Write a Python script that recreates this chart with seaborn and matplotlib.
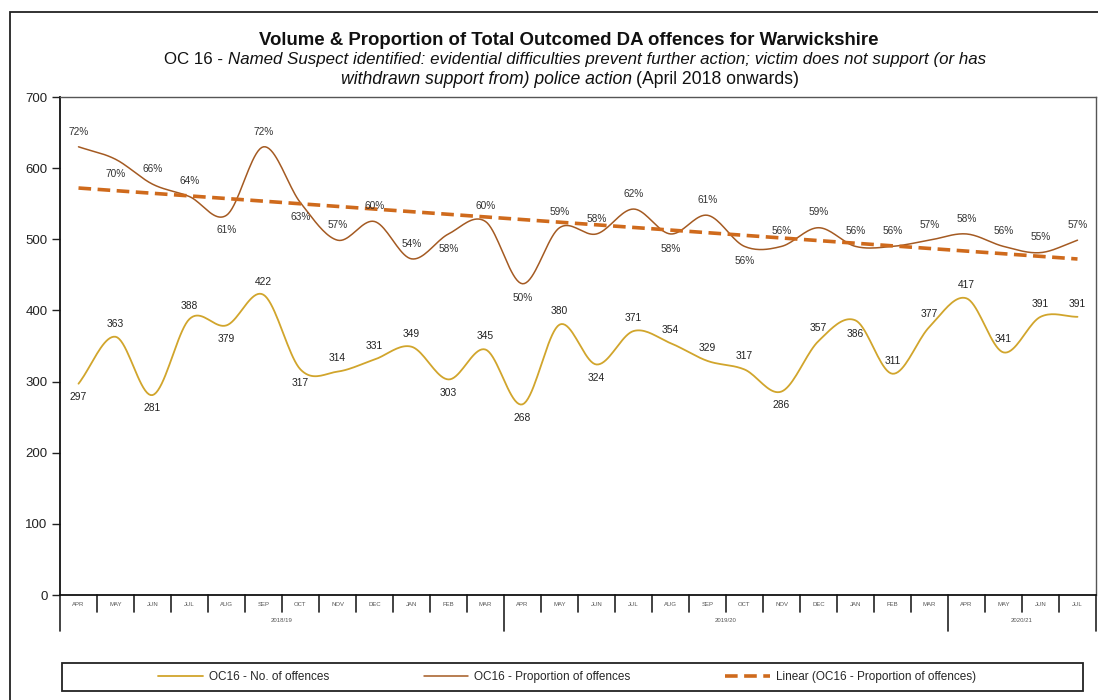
import numpy as np
import pandas as pd
import matplotlib
matplotlib.use("Agg")
import matplotlib.pyplot as plt
import matplotlib.transforms as mtransforms
from matplotlib import font_manager
from matplotlib.patches import Rectangle
from matplotlib.lines import Line2D
import seaborn as sns

# ---------------- data ----------------
months = ["APR", "MAY", "JUN", "JUL", "AUG", "SEP", "OCT", "NOV", "DEC", "JAN", "FEB", "MAR",
          "APR", "MAY", "JUN", "JUL", "AUG", "SEP", "OCT", "NOV", "DEC", "JAN", "FEB", "MAR",
          "APR", "MAY", "JUN", "JUL"]
years = ["2018/19", "2019/20", "2020/21"]
months_per_year = [12, 12, 4]
offences = [297, 363, 281, 388, 379, 422, 317, 314, 331, 349, 303, 345,
            268, 380, 324, 371, 354, 329, 317, 286, 357, 386, 311, 377,
            417, 341, 391, 391]
proportion_pct = [72, 70, 66, 64, 61, 72, 63, 57, 60, 54, 58, 60,
                  50, 59, 58, 62, 58, 61, 56, 56, 59, 56, 56, 57,
                  58, 56, 55, 57]
y_ticks = [0, 100, 200, 300, 400, 500, 600, 700]
legend_labels = ["OC16 - No. of offences", "OC16 - Proportion of offences",
                 "Linear (OC16 - Proportion of offences)"]

# ---------------- style ----------------
sns.set_theme(style="white")
avail = {f.name for f in font_manager.fontManager.ttflist}
base_font = "Liberation Sans" if "Liberation Sans" in avail else "DejaVu Sans"
plt.rcParams["font.family"] = [base_font, "DejaVu Sans"]

C_COUNT = "#D1A52C"
C_PROP = "#A45A22"
C_TREND = "#CF6A1C"
TXT = "#222222"

W, H = 1098, 700
fig = plt.figure(figsize=(W / 100, H / 100), dpi=100)
fig.patch.set_facecolor("white")


def fx(px):
    return px / W


def fy(py):
    return 1 - py / H


L, R, T, B = 60, 1096, 97, 595
ax = fig.add_axes([fx(L), fy(B), (R - L) / W, (B - T) / H])
ax2 = ax.twinx()


def smooth(xv, yv, n=20):
    """Catmull-Rom style smoothing of the line rendering (as Excel 'smoothed line')."""
    xv = np.asarray(xv, float)
    yv = np.asarray(yv, float)
    px = np.concatenate([[2 * xv[0] - xv[1]], xv, [2 * xv[-1] - xv[-2]]])
    py = np.concatenate([[2 * yv[0] - yv[1]], yv, [2 * yv[-1] - yv[-2]]])
    ox, oy = [], []
    t = np.linspace(0, 1, n, endpoint=False)
    for i in range(1, len(px) - 2):
        p0, p1, p2, p3 = py[i - 1], py[i], py[i + 1], py[i + 2]
        q0, q1, q2, q3 = px[i - 1], px[i], px[i + 1], px[i + 2]
        t2, t3 = t * t, t * t * t
        oy.append(0.5 * (2 * p1 + (-p0 + p2) * t + (2 * p0 - 5 * p1 + 4 * p2 - p3) * t2 + (-p0 + 3 * p1 - 3 * p2 + p3) * t3))
        ox.append(0.5 * (2 * q1 + (-q0 + q2) * t + (2 * q0 - 5 * q1 + 4 * q2 - q3) * t2 + (-q0 + 3 * q1 - 3 * q2 + q3) * t3))
    ox.append([xv[-1]])
    oy.append([yv[-1]])
    return np.concatenate(ox), np.concatenate(oy)


xi = np.arange(len(months))
prop = np.array(proportion_pct) / 100.0

sx, sy = smooth(xi, offences)
df_c = pd.DataFrame({"x": sx, "y": sy})
sns.lineplot(data=df_c, x="x", y="y", ax=ax, color=C_COUNT, lw=1.3, sort=False,
             label=legend_labels[0])

px_, py_ = smooth(xi, prop)
df_p = pd.DataFrame({"x": px_, "y": py_})
sns.lineplot(data=df_p, x="x", y="y", ax=ax2, color=C_PROP, lw=1.1, sort=False,
             label=legend_labels[1])

coef = np.polyfit(xi, prop, 1)
df_t = pd.DataFrame({"x": xi, "y": np.polyval(coef, xi)})
sns.lineplot(data=df_t, x="x", y="y", ax=ax2, color=C_TREND, lw=2.6, sort=False,
             label=legend_labels[2], dashes=False, linestyle=(0, (3.5, 1.8)))

h1, l1 = ax.get_legend_handles_labels()
h2, l2 = ax2.get_legend_handles_labels()
for a in (ax, ax2):
    if a.get_legend() is not None:
        a.get_legend().remove()

ax.set_xlim(-0.5, len(months) - 0.5)
ax.set_ylim(0, 700)
ax2.set_ylim(0, 0.8)
ax2.set_axis_off()

# data labels
count_pos = "babababaaabababaaaababaaaaaa"
prop_pos = "abaababaaababaaababaaaaaaaaa"
for i, v in enumerate(offences):
    off = 9.5 if count_pos[i] == "a" else -9.5
    ax.annotate(str(v), (i, v), xytext=(0, off), textcoords="offset points",
                ha="center", va="center", fontsize=7.4, color=TXT)
for i, v in enumerate(prop):
    off = 11 if prop_pos[i] == "a" else -10.5
    ax2.annotate(f"{proportion_pct[i]}%", (i, v), xytext=(0, off), textcoords="offset points",
                 ha="center", va="center", fontsize=7.3, color="#333333")

# axes styling
ax.set_yticks(y_ticks)
ax.set_yticklabels([str(t) for t in y_ticks], fontsize=9.5, color=TXT)
ax.set_xticks([])
ax.set_xlabel("")
ax.set_ylabel("")
ax.tick_params(axis="y", direction="out", length=6, width=1, color="#222222", pad=3, left=True)
for s in ("left", "bottom"):
    ax.spines[s].set_color("#111111")
    ax.spines[s].set_linewidth(1.3)
for s in ("top", "right"):
    ax.spines[s].set_color("#555555")
    ax.spines[s].set_linewidth(1.0)
for s in ax2.spines.values():
    s.set_visible(False)

# category axis (months + years)
trans = mtransforms.blended_transform_factory(ax.transData, ax.transAxes)
short = 17 / (B - T)
long_ = 36 / (B - T)
group_edges = np.concatenate([[0], np.cumsum(months_per_year)]) - 0.5
for k in range(len(months) + 1):
    xb = k - 0.5
    ln = long_ if np.any(np.isclose(group_edges, xb)) else short
    ax.add_line(Line2D([xb, xb], [0, -ln], transform=trans, color="#222222", lw=1.2, clip_on=False))
for i, m in enumerate(months):
    ax.text(i, -9 / (B - T), m, transform=trans, ha="center", va="center",
            fontsize=4.3, color="#555555")
for g, yl in enumerate(years):
    cx = (group_edges[g] + group_edges[g + 1]) / 2
    ax.text(cx, -25 / (B - T), yl, transform=trans, ha="center", va="center",
            fontsize=4.3, color="#555555")

# outer frame
fig.add_artist(Rectangle((fx(10), -0.1), 1.2, fy(12) + 0.1, transform=fig.transFigure,
                         fill=False, lw=1.3, edgecolor="#222222"))

# legend
fig.add_artist(Rectangle((fx(62), fy(691)), (1083 - 62) / W, 28 / H, transform=fig.transFigure,
                         fill=False, lw=1.3, edgecolor="#222222"))
fig.legend(h1 + h2, l1 + l2, loc="center", bbox_to_anchor=(fx(567), fy(677)), ncol=3,
           frameon=False, fontsize=8.5, handlelength=3.8, handletextpad=0.5, columnspacing=8)

# title (rich text lines)
renderer = fig.canvas.get_renderer()


def rich_line(base_y, pieces, cx, target_w):
    texts = []
    for s, style, weight in pieces:
        texts.append(fig.text(0, 0, s, fontsize=10, fontstyle=style, fontweight=weight,
                              va="baseline", ha="left", color="#111111"))
    widths = [t.get_window_extent(renderer).width for t in texts]
    scale = target_w / sum(widths)
    for t in texts:
        t.set_fontsize(10 * scale)
    widths = [t.get_window_extent(renderer).width for t in texts]
    x = cx - sum(widths) / 2
    for t, w in zip(texts, widths):
        t.set_position((fx(x), fy(base_y)))
        x += w


rich_line(45, [("Volume & Proportion of Total Outcomed DA offences for Warwickshire", "normal", "bold")],
          569, 622)
rich_line(64, [("OC 16 - ", "normal", "normal"),
               ("Named Suspect identified: evidential difficulties prevent further action; victim does not support (or has",
                "italic", "normal")], 575, 820)
rich_line(84, [("withdrawn support from) police action ", "italic", "normal"),
               ("(April 2018 onwards)", "normal", "normal")], 570, 460)

fig.savefig("out.png", dpi=100, facecolor="white")
